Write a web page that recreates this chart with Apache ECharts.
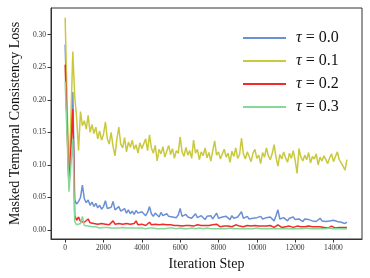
<!DOCTYPE html>
<html><head><meta charset="utf-8">
<script src="https://cdn.jsdelivr.net/npm/echarts@6/dist/echarts.min.js"></script>
<style>html,body{margin:0;padding:0;background:#fff}#c{width:370px;height:278px}</style>
</head><body><div id="c"></div>
<script>
// iteration steps: 0, 200, 400, then every 100 from 500 to 14700
const steps = [0, 200, 400];
for (let s = 500; s <= 14700; s += 100) steps.push(s);

const seriesNames = ['τ = 0.0', 'τ = 0.1', 'τ = 0.2', 'τ = 0.3'];

const tau00 = [0.285, 0.068, 0.212,
0.046,0.040,0.044,0.050,0.069,0.048,0.042,0.046,0.038,0.043,
0.036,0.041,0.034,0.038,0.032,0.036,0.045,0.033,0.030,0.035,
0.044,0.031,0.028,0.036,0.029,0.027,0.033,0.026,0.031,0.025,
0.029,0.024,0.030,0.026,0.023,0.028,0.025,0.022,0.027,0.036,
0.025,0.021,0.026,0.023,0.020,0.027,0.022,0.019,0.025,0.021,
0.024,0.020,0.022,0.019,0.023,0.033,0.021,0.018,0.024,0.020,
0.022,0.018,0.021,0.025,0.019,0.017,0.022,0.019,0.016,0.021,
0.018,0.022,0.017,0.020,0.026,0.018,0.016,0.020,0.017,0.021,
0.019,0.016,0.022,0.018,0.015,0.020,0.017,0.028,0.018,0.016,
0.021,0.017,0.019,0.018,0.015,0.019,0.016,0.021,0.017,0.015,
0.019,0.016,0.020,0.017,0.014,0.022,0.031,0.017,0.015,0.019,
0.016,0.014,0.018,0.015,0.020,0.016,0.014,0.017,0.015,0.013,
0.017,0.014,0.016,0.019,0.014,0.016,0.013,0.015,0.018,0.014,
0.015,0.013,0.016,0.014,0.012,0.015,0.017,0.013,0.015,0.012,
0.014,0.010,0.012];

const tau01 = [0.326, 0.070, 0.274,
0.205,0.172,0.122,0.182,0.160,0.168,0.155,0.176,0.150,0.162,
0.148,0.158,0.140,0.152,0.138,0.147,0.166,0.140,0.132,0.150,
0.128,0.114,0.140,0.158,0.132,0.126,0.142,0.120,0.135,0.127,
0.138,0.124,0.131,0.118,0.134,0.125,0.128,0.140,0.122,0.146,
0.126,0.118,0.130,0.106,0.124,0.117,0.128,0.112,0.121,0.130,
0.116,0.125,0.110,0.122,0.118,0.143,0.120,0.113,0.127,0.115,
0.122,0.110,0.138,0.118,0.124,0.108,0.120,0.114,0.126,0.111,
0.119,0.106,0.122,0.137,0.115,0.120,0.109,0.117,0.124,0.112,
0.118,0.104,0.121,0.113,0.126,0.110,0.116,0.141,0.117,0.109,
0.120,0.113,0.105,0.118,0.124,0.110,0.115,0.102,0.119,0.112,
0.126,0.114,0.108,0.117,0.131,0.112,0.098,0.116,0.109,0.120,
0.111,0.104,0.118,0.110,0.122,0.107,0.087,0.125,0.112,0.106,
0.115,0.108,0.119,0.103,0.113,0.109,0.117,0.100,0.112,0.106,
0.114,0.108,0.102,0.111,0.117,0.105,0.113,0.120,0.108,0.103,
0.098,0.092,0.108];

const tau02 = [0.254, 0.065, 0.186,
0.022,0.015,0.020,0.013,0.016,0.012,0.014,0.017,0.011,0.013,
0.010,0.012,0.009,0.011,0.010,0.013,0.009,0.011,0.008,0.010,
0.014,0.009,0.008,0.010,0.008,0.009,0.007,0.010,0.008,0.009,
0.008,0.010,0.014,0.008,0.007,0.009,0.008,0.007,0.009,0.012,
0.008,0.007,0.009,0.006,0.008,0.007,0.009,0.006,0.008,0.007,
0.008,0.006,0.007,0.009,0.007,0.010,0.006,0.008,0.007,0.006,
0.007,0.009,0.006,0.007,0.008,0.006,0.007,0.005,0.007,0.006,
0.007,0.006,0.008,0.006,0.009,0.006,0.005,0.007,0.006,0.005,
0.006,0.007,0.005,0.006,0.008,0.005,0.006,0.007,0.005,0.006,
0.007,0.005,0.006,0.005,0.007,0.005,0.006,0.004,0.006,0.005,
0.006,0.005,0.007,0.005,0.004,0.006,0.008,0.005,0.004,0.006,
0.005,0.004,0.006,0.005,0.004,0.005,0.006,0.004,0.005,0.004,
0.005,0.004,0.006,0.004,0.005,0.004,0.005,0.003,0.005,0.004,
0.004,0.005,0.003,0.004,0.006,0.004,0.003,0.005,0.004,0.003,
0.004,0.005,0.004];

const tau03 = [0.228, 0.059, 0.140,
0.013,0.008,0.006,0.010,0.021,0.007,0.005,0.006,0.004,0.005,
0.004,0.005,0.004,0.003,0.005,0.004,0.003,0.004,0.004,0.003,
0.004,0.003,0.004,0.003,0.003,0.004,0.003,0.003,0.004,0.003,
0.003,0.003,0.004,0.003,0.002,0.003,0.003,0.002,0.003,0.003,
0.002,0.003,0.003,0.002,0.003,0.002,0.003,0.002,0.002,0.003,
0.002,0.003,0.002,0.002,0.003,0.003,0.002,0.002,0.003,0.002,
0.002,0.003,0.002,0.002,0.002,0.003,0.002,0.002,0.002,0.003,
0.002,0.002,0.003,0.002,0.002,0.002,0.003,0.002,0.002,0.002,
0.002,0.003,0.002,0.002,0.002,0.002,0.003,0.002,0.002,0.002,
0.003,0.002,0.002,0.002,0.002,0.003,0.002,0.002,0.002,0.002,
0.002,0.002,0.003,0.002,0.002,0.002,0.002,0.002,0.003,0.002,
0.002,0.002,0.002,0.002,0.003,0.002,0.002,0.002,0.002,0.002,
0.002,0.003,0.002,0.002,0.002,0.002,0.002,0.002,0.002,0.002,
0.002,0.002,0.002,0.003,0.002,0.002,0.002,0.002,0.002,0.002,
0.002,0.002,0.002];

const xTicks = [0, 2000, 4000, 6000, 8000, 10000, 12000, 14000];
const yTicks = [0.00, 0.05, 0.10, 0.15, 0.20, 0.25, 0.30];

const colors = ['#6b8fd6', '#c9c93e', '#f22a2a', '#86d898'];
const allData = [tau00, tau01, tau02, tau03];
const serif = 'Liberation Serif, DejaVu Serif, serif';

const chart = echarts.init(document.getElementById('c'), null, {renderer: 'canvas'});
chart.setOption({
  animation: false,
  backgroundColor: '#fff',
  grid: {left: 45, right: 8, top: 8, bottom: 39, show: true, borderColor: '#333', borderWidth: 1},
  legend: {
    orient: 'vertical', left: 238, top: 25, itemWidth: 43, itemHeight: 2, itemGap: 7,
    icon: 'rect',
    data: seriesNames,
    formatter: n => '{i|τ}' + n.slice(1),
    textStyle: {fontFamily: serif, fontSize: 16, color: '#111', lineHeight: 16, padding: [0, 0, 0, 5],
      rich: {i: {fontFamily: serif, fontSize: 16, fontStyle: 'italic', color: '#111'}}}
  },
  xAxis: {
    type: 'value', min: -737, max: 15487,
    name: 'Iteration Step', nameLocation: 'middle', nameGap: 16,
    nameTextStyle: {fontFamily: serif, fontSize: 14, color: '#111'},
    axisLine: {show: true, onZero: false, lineStyle: {color: '#333', width: 1}},
    axisTick: {show: true, length: 3.5, lineStyle: {color: '#333'}, customValues: xTicks},
    axisLabel: {fontFamily: serif, fontSize: 7.5, color: '#333', margin: 5, customValues: xTicks, formatter: v => String(Math.round(v))},
    splitLine: {show: false}
  },
  yAxis: {
    type: 'value', min: -0.0138, max: 0.341,
    name: 'Masked Temporal Consistency Loss', nameLocation: 'middle', nameGap: 26, nameRotate: 90,
    nameTextStyle: {fontFamily: serif, fontSize: 14, color: '#111'},
    axisLine: {show: true, onZero: false, lineStyle: {color: '#333', width: 1}},
    axisTick: {show: true, length: 3.5, lineStyle: {color: '#333'}, customValues: yTicks},
    axisLabel: {fontFamily: serif, fontSize: 7.5, color: '#333', margin: 5, customValues: yTicks, formatter: v => v.toFixed(2)},
    splitLine: {show: false}
  },
  series: allData.map((d, i) => ({
    name: seriesNames[i], type: 'line', showSymbol: false, symbol: 'none',
    data: d.map((v, j) => [steps[j], v]),
    lineStyle: {color: colors[i], width: 1.5},
    itemStyle: {color: colors[i]},
    z: 2 + i
  }))
});
</script></body></html>
